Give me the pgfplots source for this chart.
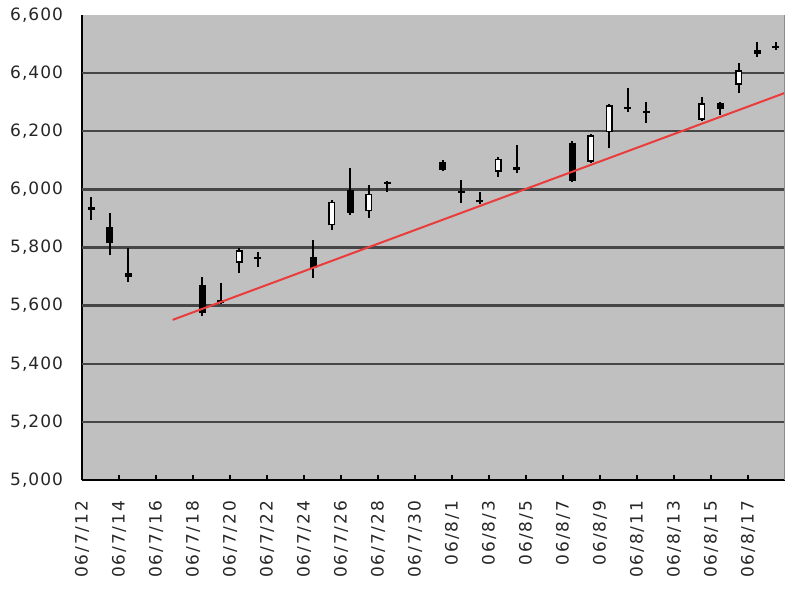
\documentclass[border=0pt]{standalone}
\usepackage{pgfplots}
\usepackage{pgfplotstable}
\pgfplotsset{compat=1.18}
\usepackage{fontspec}
\setmainfont{DejaVu Sans}
\newfontfamily\xtickfont{DejaVu Sans}[LetterSpace=11]
\newfontfamily\ytickfont{DejaVu Sans}[LetterSpace=6]
\definecolor{plotbg}{RGB}{192,192,192}
\definecolor{gridc}{RGB}{70,70,70}
\definecolor{trend}{RGB}{235,60,60}
% d = days after 06/7/12 ; O H L C
\pgfplotstableread{
d  O    H    L    C
0  5938 5974 5895 5930
1  5871 5919 5774 5816
2  5712 5798 5681 5700
6  5671 5699 5565 5575
7  5618 5678 5605 5610
8  5747 5798 5712 5791
9  5768 5785 5733 5760
12 5767 5826 5695 5730
13 5877 5962 5860 5957
14 5998 6074 5912 5919
15 5925 6015 5902 5985
16 6025 6028 5990 6020
19 6094 6100 6062 6067
20 5995 6032 5953 5988
21 5962 5991 5950 5955
22 6060 6111 6043 6105
23 6078 6153 6056 6068
26 6160 6165 6025 6029
27 6094 6190 6090 6187
28 6197 6295 6142 6290
29 6285 6349 6266 6275
30 6270 6301 6228 6262
33 6239 6318 6235 6297
34 6297 6300 6256 6275
35 6360 6435 6332 6410
36 6480 6507 6456 6465
37 6495 6507 6480 6488
}\alld
\pgfplotstableread{
d  O    C
8  5747 5791
13 5877 5957
15 5925 5985
22 6060 6105
27 6094 6187
28 6197 6290
33 6239 6297
35 6360 6410
}\upd
\pgfplotstableread{
d  O    C
0  5938 5930
1  5871 5816
2  5712 5700
6  5671 5575
7  5618 5610
9  5768 5760
12 5767 5730
14 5998 5919
16 6025 6020
19 6094 6067
20 5995 5988
21 5962 5955
23 6078 6068
26 6160 6029
29 6285 6275
30 6270 6262
34 6297 6275
36 6480 6465
37 6495 6488
}\dnd
\begin{document}
\begin{tikzpicture}
\useasboundingbox (0,0) rectangle (400pt,300pt);
\begin{axis}[
  at={(41pt,60pt)}, anchor=south west,
  scale only axis, width=351.5pt, height=232.5pt,
  xmin=-0.5, xmax=37.5, ymin=5000, ymax=6600,
  axis background/.style={fill=plotbg},
  axis x line*=bottom, axis y line*=left,
  axis line style={black, line width=1.1pt, -},
  xtick={-0.5,1.5,...,35.5},
  xticklabels={06/7/12,06/7/14,06/7/16,06/7/18,06/7/20,06/7/22,06/7/24,06/7/26,06/7/28,06/7/30,06/8/1,06/8/3,06/8/5,06/8/7,06/8/9,06/8/11,06/8/13,06/8/15,06/8/17},
  xticklabel style={rotate=90, anchor=east, font=\xtickfont\fontsize{8.5}{10}\selectfont, text=black!85},
  xticklabel shift=7pt,
  ytick={5000,5200,...,6600},
  yticklabel style={font=\ytickfont\fontsize{8.5}{10}\selectfont, text=black!85, /pgf/number format/fixed, /pgf/number format/1000 sep={,}, /pgf/number format/assume math mode=true},
  yticklabel shift=6pt,
  ymajorgrids=false,
  extra y ticks={5200,5400,...,6400},
  extra y tick labels={},
  extra y tick style={grid=major, major grid style={gridc, line width=1.2pt}},
  ytick style={draw=none},
  xtick style={black, line width=0.8pt},
  major tick length=2.5pt, tick align=inside,
]
% wicks
\addplot[draw=none, mark=none, forget plot,
  error bars/.cd, y dir=plus, y explicit, error mark=none,
  error bar style={draw=black, line width=0.8pt, solid}]
  table[x=d, y=L, y error expr=\thisrow{H}-\thisrow{L}] {\alld};
% falling bodies (black)
\addplot[draw=none, mark=none, forget plot,
  error bars/.cd, y dir=plus, y explicit, error mark=none,
  error bar style={draw=black, line width=3.6pt, solid, line cap=butt}]
  table[x=d, y=C, y error expr=\thisrow{O}-\thisrow{C}] {\dnd};
% rising bodies (white with black border)
\addplot[draw=none, mark=none, forget plot,
  error bars/.cd, y dir=plus, y explicit, error mark=none,
  error bar style={draw=black, line width=3.6pt, solid, line cap=butt}]
  table[x=d, y=O, y error expr=\thisrow{C}-\thisrow{O}] {\upd};
\addplot[draw=none, mark=none, forget plot,
  error bars/.cd, y dir=plus, y explicit, error mark=none,
  error bar style={draw=white, line width=2pt, solid, line cap=butt}]
  table[x=d, y expr=\thisrow{O}+5.5, y error expr=\thisrow{C}-\thisrow{O}-11] {\upd};
% trend line
\addplot[trend, line width=1pt, mark=none] coordinates {(4.4,5551) (37.5,6332)};
\draw[black!45, line width=0.8pt] (rel axis cs:1,0) -- (rel axis cs:1,1);
\end{axis}
\end{tikzpicture}
\end{document}
